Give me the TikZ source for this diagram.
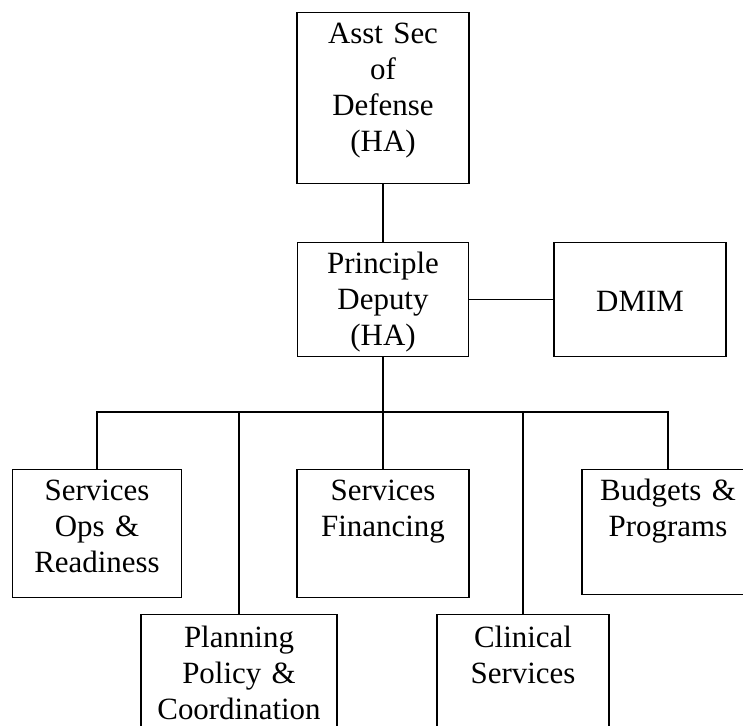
\documentclass[tikz,border=0pt]{standalone}
\usepackage{fontspec}
\setmainfont{Liberation Serif}

\begin{document}
\begin{tikzpicture}[x=0.2mm,y=-0.2mm,line width=0.7pt,
        orgbox/.style={draw,anchor=north,inner xsep=0pt,inner ysep=0pt,align=center,
            font=\fontsize{17.6}{20.5}\selectfont,text height=6.2mm,text depth=#1},
        orgbox/.default=19.4mm]
        \path[use as bounding box,clip](0,0)rectangle(743,726);

        \node[orgbox=28mm,text width=34.4mm](asd)at(383,12){Asst Sec\\of\\Defense\\(HA)};
        \node[orgbox=16.6mm,text width=34.2mm](pd)at(383,242){Principle\\Deputy\\(HA)};
        \node[orgbox,text width=34.4mm,text height=13.8mm,text depth=9mm](dmim)at(640,242){DMIM};

        \node[orgbox,text width=33.8mm](sops)at(97,469){Services\\Ops \&\\Readiness};
        \node[orgbox,text width=34.4mm](sf)at(383,469){Services\\Financing};
        \node[orgbox=18.8mm,text width=34.4mm](bud)at(668,469){Budgets \&\\Programs};
        \node[orgbox=25mm,text width=39.2mm,text height=6.6mm](plan)at(239,614){Planning\\Policy \&\\Coordination};
        \node[orgbox=25mm,text width=34.4mm,text height=6.6mm](clin)at(523,614){Clinical\\Services};

        \coordinate(bus)at(383,412);
        \draw(asd)--(pd);
        \draw(pd.east)--(pd.east-|dmim.west);
        \draw(pd.south)--(bus);
        \draw(bus)-|(sops.north);
        \draw(bus)-|(plan.north);
        \draw(bus)--(sf.north);
        \draw(bus)-|(clin.north);
        \draw(bus)-|(bud.north);
    \end{tikzpicture}
\end{document}
